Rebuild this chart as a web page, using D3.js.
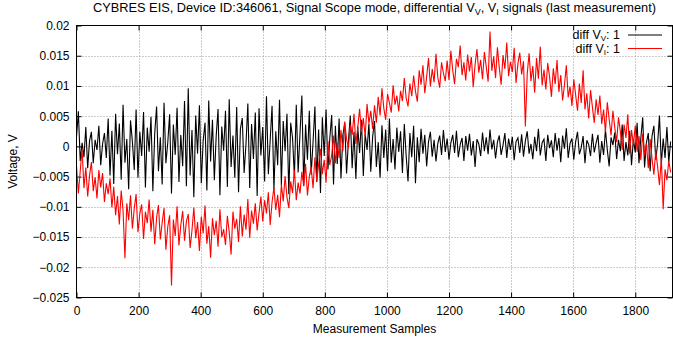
<!DOCTYPE html>
<html>
<head>
<meta charset="utf-8">
<script src="https://cdn.jsdelivr.net/npm/d3@7"></script>
<style>
  body { margin: 0; background: #fff; }
  svg { display: block; font-family: "Liberation Sans", Arial, sans-serif; }
  .tick-label { font-size: 12px; fill: #000; }
  .grid line { stroke: #999; stroke-dasharray: 1,2; }
</style>
</head>
<body>
<div id="chart"></div>
<script>
const sampleStep = 6;

const diffVV = [
  1.5, 5.8, -2.4, 0.6, -1.8, 3.2, -3.6, 0.9, 2.4, -2.8, 1.1, -0.6, 3.4, -3.1, 0.4, 2.2, -1.9, 4.6, -4.8, 2.6,
  -6.2, 5.4, -1.3, 3.8, -5.5, 6.9, -2.7, 1.2, -7.1, 4.3, 0.8, -3.9, 6.1, -5.2, 2.4, -1.6, 5.7, -6.8, 3.1, -0.9,
  4.9, -7.4, 2.2, 6.6, -4.1, 1.5, -6.3, 7.2, -2.8, 0.6, 5.3, -7.8, 3.6, -1.4, 6.4, -5.9, 1.9, -3.3, 7.5, -6.6,
  9.6, -4.8, 2.7, -8.4, 5.1, -1.2, 6.8, -6.1, 0.9, 3.9, -7.3, 7.6, -2.5, 4.4, -5.6, 1.7, 6.2, -8.1, 3.3, -0.7,
  5.9, -6.7, 7.8, -3.4, 1.8, -5.2, 6.5, -7.6, 2.9, 4.7, -4.4, 0.4, 7.1, -6.9, 3.7, -2.1, 5.6, -8.2, 6.3, -1.5,
  3.2, -5.8, 8.3, -4.6, 1.1, 6.7, -7.2, 2.5, -3.1, 7.7, -6.4, 4.2, -0.8, 5.4, -7.9, 3.9, 1.4, -5.1, 6.9, -4.3,
  2.1, 8.4, -6.5, 3.6, -2.2, 5.9, -4.7, 0.7, 6.6, -5.9, 2.8, -7.7, 4.8, -1.6, 6.1, -3.8, 1.3, 5.2, -6.3, 3.4,
  -2.9, 4.6, -5.3, 1.8, 3.9, -4.5, 0.9, 5.1, -3.6, 2.4, -5.4, 3.3, -1.1, 4.4, -4.9, 2.1, -0.6, 3.8, -4.2, 1.6,
  4.2, -3.4, 0.7, -5.2, 3.5, -1.9, 2.8, -4.1, 4.6, -2.7, 1.2, -3.8, 3.1, -0.9, 2.5, -4.4, 3.7, -1.6, -5.8, 2.2,
  -1.8, 3.4, -6.1, 1.5, -2.6, 2.9, -1.2, 1.9, -3.3, 0.8, 2.4, -1.7, 1.1, -2.5, 0.5, 1.8, -1.4, 2.7, -0.9, 1.3,
  -2.2, 0.6, 1.9, -1.1, 2.6, -1.8, 0.3, 1.4, -2.4, 1.7, -0.7, 2.1, -1.5, 0.9, -3.4, 1.2, 0.4, -1.6, 2.3, -0.8,
  1.5, -1.3, 2.8, -0.5, 1.1, -2.0, 0.7, 1.8, -1.4, 0.2, 2.2, -1.9, 1.3, -0.6, 1.6, -2.3, 0.8, 1.4, -1.1, 2.0,
  -1.7, 0.9, 2.5, -1.2, 0.4, -2.1, 1.6, -0.8, 2.9, -1.5, 0.6, 1.2, -2.4, 1.9, -0.3, 1.0, -1.8, 2.2, -0.7, 1.4,
  -2.6, 1.8, -0.4, 3.0, -1.9, 0.5, 1.3, -2.2, 0.8, 2.4, -1.3, -0.2, 1.7, -2.8, 1.0, 0.3, -1.6, 2.1, -1.0, 0.6,
  1.9, -2.7, 0.9, -1.4, 2.8, -0.6, -3.3, 1.5, 0.2, 2.3, -2.1, 1.1, -0.8, 3.6, -2.4, 0.7, -1.5, 2.6, -3.1, 1.2,
  -1.0, 3.9, -2.8, 1.4, 4.8, -3.5, 0.6, 2.2, -4.1, 1.7, 3.4, -2.2, 0.4, 5.1, -3.0, 1.3, -1.9, 3.2, -2.6, 0.8
];

const diffVI = [
  -3.2, -7.8, -4.1, -0.4, -6.9, -3.5, -8.3, -4.8, -2.6, -7.4, -5.1, -8.6, -3.9, -6.8, -4.4, -9.2, -6.1, -7.9, -5.3, -10.1,
  -6.7, -11.4, -8.2, -12.9, -7.3, -10.6, -18.5, -9.4, -12.2, -8.1, -13.6, -10.3, -7.9, -14.2, -11.1, -9.6, -15.3, -10.8, -12.7, -8.8,
  -14.1, -10.5, -16.2, -11.8, -9.7, -15.4, -12.6, -10.2, -17.1, -13.3, -11.4, -23.0, -12.1, -14.8, -9.9, -16.4, -13.0, -10.7, -15.6, -12.4,
  -11.2, -16.8, -13.9, -10.1, -15.2, -12.5, -17.3, -11.6, -14.4, -9.8, -16.1, -13.2, -18.4, -11.9, -14.7, -12.3, -16.6, -10.4, -15.0, -13.7,
  -16.3, -11.5, -14.2, -17.9, -10.8, -13.6, -12.0, -15.8, -9.9, -14.9, -11.3, -13.8, -8.7, -15.1, -10.6, -12.8, -9.4, -13.9, -11.0, -8.3,
  -12.4, -8.9, -11.1, -7.6, -13.0, -9.2, -6.8, -10.5, -8.0, -11.7, -6.3, -9.1, -4.9, -8.4, -10.2, -5.8, -7.7, -3.9, -8.9, -6.0,
  -7.8, -4.2, -6.6, -2.9, -8.1, -5.0, -3.4, -6.9, -1.8, -5.7, -3.0, -0.4, -4.6, -2.2, -6.0, 0.9, -3.1, -1.5, 1.8, -2.8,
  0.6, -1.9, 2.7, -0.8, 4.1, 1.2, -0.3, 3.6, 1.9, 5.4, 0.4, 3.1, 6.2, 2.3, 4.7, 1.6, 7.0, 3.8, 5.9, 2.9,
  6.8, 3.9, 8.2, 5.1, 9.6, 6.3, 4.4, 8.7, 7.2, 5.6, 10.1, 6.9, 8.4, 5.8, 9.2, 7.5, 11.3, 8.0, 6.6, 10.4,
  8.3, 11.7, 9.1, 7.4, 12.6, 10.2, 13.4, 8.8, 11.5, 14.6, 9.9, 12.8, 10.6, 15.3, 11.4, 9.7, 13.9, 12.1, 10.8, 14.2,
  11.0, 15.8, 12.6, 10.3, 14.5, 13.1, 16.7, 11.8, 13.9, 10.9, 15.2, 12.4, 14.8, 9.8, 13.5, 16.1, 12.2, 14.3, 11.1, 15.6,
  13.2, 10.7, 19.0, 12.5, 14.9, 11.3, 16.4, 13.0, 10.2, 15.1, 12.8, 17.2, 11.6, 14.0, 12.3, 16.3, 10.5, 13.7, 15.5, 11.9,
  14.1, 3.3, 12.0, 15.4, 10.8, 13.3, 8.9, 14.6, 11.2, 16.5, 10.1, 12.7, 9.4, 13.8, 11.5, 8.2, 12.9, 10.3, 14.3, 9.0,
  11.8, 7.6, 10.2, 13.4, 8.1, 9.9, 6.7, 11.1, 8.5, 5.9, 10.4, 7.2, 12.6, 6.1, 8.8, 4.6, 9.3, 6.5, 3.9, 7.8,
  5.2, 8.4, 3.7, 6.1, 2.4, 7.3, 4.5, 1.8, 5.9, 3.1, 0.7, 4.8, 2.5, -0.6, 3.6, 1.4, 5.3, -1.2, 2.7, 0.3,
  3.4, -0.9, 1.7, -2.3, 2.1, -1.4, 0.5, -3.6, 1.2, -2.0, -4.7, -0.8, -3.3, -6.4, -1.9, -10.4, -3.8, -5.6, -2.4, -4.3
];

const xTicks = [0, 200, 400, 600, 800, 1000, 1200, 1400, 1600, 1800];
const yTicks = [-0.025, -0.02, -0.015, -0.01, -0.005, 0, 0.005, 0.01, 0.015, 0.02];
const yTickLabels = ['\u22120.025', '\u22120.02', '\u22120.015', '\u22120.01', '\u22120.005', '0', '0.005', '0.01', '0.015', '0.02'];

const width = 673;
const height = 345;
const plotLeft = 76.5, plotRight = 672.5, plotTop = 25.5, plotBottom = 297.5;

const svg = d3.select('#chart')
  .append('svg')
  .attr('width', width)
  .attr('height', height);

const x = d3.scaleLinear().domain([0, 1920]).range([plotLeft, plotRight]);
const y = d3.scaleLinear().domain([-0.025, 0.02]).range([plotBottom, plotTop]);

// grid (dotted, inner ticks only)
const grid = svg.append('g').attr('class', 'grid');
grid.selectAll('.gx')
  .data(xTicks.slice(1))
  .enter()
  .append('line')
  .attr('x1', (d) => Math.round(x(d)) + 0.5)
  .attr('x2', (d) => Math.round(x(d)) + 0.5)
  .attr('y1', plotTop)
  .attr('y2', plotBottom);
grid.selectAll('.gy')
  .data(yTicks.slice(1, -1))
  .enter()
  .append('line')
  .attr('y1', (d) => Math.round(y(d)) + 0.5)
  .attr('y2', (d) => Math.round(y(d)) + 0.5)
  .attr('x1', plotLeft)
  .attr('x2', plotRight);

// axes, ticks pointing inward and mirrored
const axisLeft = d3.axisLeft(y).tickValues(yTicks).tickSize(-5).tickFormat((d, i) => yTickLabels[i]).tickPadding(7);
const axisRight = d3.axisRight(y).tickValues(yTicks).tickSize(-5).tickFormat('');
const axisBottom = d3.axisBottom(x).tickValues(xTicks).tickSize(-5).tickFormat(d3.format('d')).tickPadding(9);
const axisTop = d3.axisTop(x).tickValues(xTicks).tickSize(-5).tickFormat('');

function styleAxis(g) {
  g.select('.domain').remove();
  g.selectAll('.tick line').attr('stroke', '#000');
  g.selectAll('.tick text')
    .attr('class', 'tick-label')
    .style('font-family', 'Liberation Sans, Arial, sans-serif');
}

svg.append('g').attr('transform', 'translate(' + plotLeft + ',0)').call(axisLeft).call(styleAxis);
svg.append('g').attr('transform', 'translate(' + plotRight + ',0)').call(axisRight).call(styleAxis);
svg.append('g').attr('transform', 'translate(0,' + plotBottom + ')').call(axisBottom).call(styleAxis);
svg.append('g').attr('transform', 'translate(0,' + plotTop + ')').call(axisTop).call(styleAxis);

// signals
const line = d3.line()
  .x((d, i) => x(i * sampleStep))
  .y((d) => y(d / 1000));

svg.append('path')
  .datum(diffVV)
  .attr('fill', 'none')
  .attr('stroke', '#000')
  .attr('stroke-width', 1.1)
  .attr('d', line);

svg.append('path')
  .datum(diffVI)
  .attr('fill', 'none')
  .attr('stroke', '#ff0000')
  .attr('stroke-width', 1.1)
  .attr('d', line);

// border
svg.append('rect')
  .attr('x', plotLeft)
  .attr('y', plotTop)
  .attr('width', plotRight - plotLeft)
  .attr('height', plotBottom - plotTop)
  .attr('fill', 'none')
  .attr('stroke', '#000')
  .attr('stroke-width', 1);

// legend
const legend = [
  { sub: 'V', color: '#000' },
  { sub: 'I', color: '#ff0000' },
];
const lg = svg.append('g').style('font-size', '12.5px');
legend.forEach((d, i) => {
  const ly = 34.5 + i * 13.5;
  const t = lg.append('text')
    .attr('x', 620)
    .attr('y', ly + 4.5)
    .attr('text-anchor', 'end');
  t.append('tspan').text('diff V');
  t.append('tspan').attr('dy', 2).style('font-size', '8px').text(d.sub);
  t.append('tspan').attr('dy', -2).text(': 1');
  lg.append('line')
    .attr('x1', 628)
    .attr('x2', 662)
    .attr('y1', ly + 0.5)
    .attr('y2', ly + 0.5)
    .attr('stroke', d.color)
    .attr('stroke-width', 1);
});

// title
const title = svg.append('text')
  .attr('x', (plotLeft + plotRight) / 2)
  .attr('y', 12)
  .attr('text-anchor', 'middle')
  .style('font-size', '12.8px');
title.append('tspan').text('CYBRES EIS, Device ID:346061, Signal Scope mode, differential V');
title.append('tspan').attr('dy', 3).style('font-size', '9px').text('V');
title.append('tspan').attr('dy', -3).text(', V');
title.append('tspan').attr('dy', 3).style('font-size', '9px').text('I');
title.append('tspan').attr('dy', -3).text(' signals (last measurement)');

// axis titles
svg.append('text')
  .attr('x', (plotLeft + plotRight) / 2)
  .attr('y', 333)
  .attr('text-anchor', 'middle')
  .style('font-size', '12px')
  .text('Measurement Samples');

svg.append('text')
  .attr('transform', 'translate(17,' + (plotTop + plotBottom) / 2 + ') rotate(-90)')
  .attr('text-anchor', 'middle')
  .style('font-size', '12px')
  .text('Voltage, V');
</script>
</body>
</html>
